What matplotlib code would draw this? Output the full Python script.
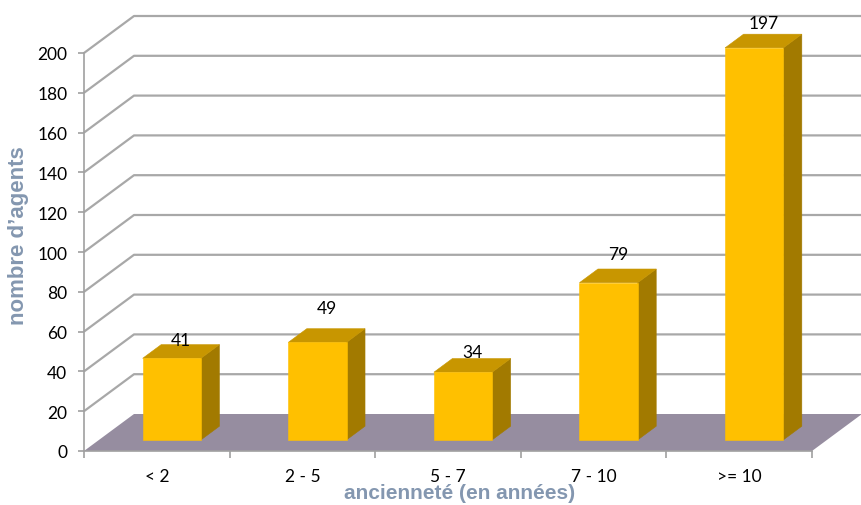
import matplotlib
matplotlib.use("Agg")
import matplotlib.pyplot as plt
from matplotlib.patches import Polygon
from matplotlib.lines import Line2D
from matplotlib.ticker import FixedLocator

# ---- data ----
categories = ["< 2", "2 - 5", "5 - 7", "7 - 10", ">= 10"]
agents = [41, 49, 34, 79, 197]
y_ticks = [0, 20, 40, 60, 80, 100, 120, 140, 160, 180, 200]

# ---- style ----
W, H, DPI = 862, 506, 100
AX_L, AX_R, AX_B, AX_T = 84, 812, 452, 54          # front plane, pixels from top-left
DEPTH_PX = (50, 37)                                 # full floor depth (right, up)
BAR_D0, BAR_D1 = 0.30, 0.67                          # bar depth span as fraction of floor
BAR_W = 0.40
LABEL_LIFT = [11, 28, 13, 22, 18]                    # px above bar mid-depth top
FRONT, TOP, SIDE = "#FFC000", "#C89600", "#A27A00"
FLOOR = "#968DA0"
GRID = "#A8A8A8"
AXIS = "#A0A0A0"
TITLE_C = "#8497B0"
TICK_FONT = "Lato"
TICK_SIZE = 12.5
TITLE_FONT = "Liberation Sans"

fig = plt.figure(figsize=(W / DPI, H / DPI), dpi=DPI)
ax = fig.add_axes([AX_L / W, (H - AX_B) / H, (AX_R - AX_L) / W, (AX_B - AX_T) / H])
ax.set_xlim(-0.5, len(categories) - 0.5)
ax.set_ylim(0, 200)
ax.patch.set_visible(False)

# depth shift expressed in data units
px_per_x = (AX_R - AX_L) / len(categories)
px_per_y = (AX_B - AX_T) / 200.0
dxu = DEPTH_PX[0] / px_per_x
dyu = DEPTH_PX[1] / px_per_y


def at(x, y, d):
    return (x + d * dxu, y + d * dyu)


x0, x1 = -0.5, len(categories) - 0.5

# side wall + back wall gridlines
for v in y_ticks[1:]:
    pts = [at(x0, v, 0), at(x0, v, 1), at(x1, v, 1)]
    ax.add_line(Line2D([p[0] for p in pts], [p[1] for p in pts], color=GRID,
                       lw=1.6, clip_on=False, zorder=1, solid_capstyle="butt"))

# floor
floor = Polygon([at(x0, 0, 0), at(x1, 0, 0), at(x1, 0, 1), at(x0, 0, 1)],
                closed=True, facecolor=FLOOR, edgecolor="none", clip_on=False, zorder=2)
ax.add_patch(floor)

# bars
for i, v in enumerate(agents):
    l, r = i - BAR_W / 2, i + BAR_W / 2
    front = [at(l, 0, BAR_D0), at(r, 0, BAR_D0), at(r, v, BAR_D0), at(l, v, BAR_D0)]
    side = [at(r, 0, BAR_D0), at(r, 0, BAR_D1), at(r, v, BAR_D1), at(r, v, BAR_D0)]
    top = [at(l, v, BAR_D0), at(r, v, BAR_D0), at(r, v, BAR_D1), at(l, v, BAR_D1)]
    for poly, c in ((side, SIDE), (top, TOP), (front, FRONT)):
        ax.add_patch(Polygon(poly, closed=True, facecolor=c, edgecolor=c, lw=0.4,
                             clip_on=False, zorder=3))
    mid = (BAR_D0 + BAR_D1) / 2
    ax.annotate(str(v), xy=at(i, v, mid), xytext=(0, LABEL_LIFT[i]),
                textcoords="offset pixels", ha="center", va="center",
                fontsize=TICK_SIZE, family=TICK_FONT, color="black", zorder=5,
                annotation_clip=False)

# axes lines and ticks
for s in ("top", "right"):
    ax.spines[s].set_visible(False)
for s in ("left", "bottom"):
    ax.spines[s].set_color(AXIS)
    ax.spines[s].set_linewidth(1.2)
    ax.spines[s].set_zorder(2.5)

ax.set_yticks(y_ticks)
ax.set_yticklabels([str(t) for t in y_ticks], family=TICK_FONT, fontsize=TICK_SIZE)
ax.tick_params(axis="y", length=4, width=1.2, color=AXIS, pad=8)

ax.set_xticks(range(len(categories)))
ax.set_xticklabels(categories, family=TICK_FONT, fontsize=TICK_SIZE)
ax.xaxis.set_minor_locator(FixedLocator([k - 0.5 for k in range(len(categories) + 1)]))
ax.tick_params(axis="x", which="major", length=0, pad=12)
ax.tick_params(axis="x", which="minor", length=5, width=1.2, color=AXIS)

fig.text(19 / W, 1 - 236 / H, "nombre d\u2019agents", rotation=90, ha="center", va="center",
         fontsize=16, fontweight="bold", family=TITLE_FONT, color=TITLE_C)
fig.text(460 / W, 1 - 494 / H, "ancienneté (en années)", ha="center", va="center",
         fontsize=15, fontweight="bold", family=TITLE_FONT, color=TITLE_C)

fig.savefig("out.png", dpi=DPI, facecolor="white")
